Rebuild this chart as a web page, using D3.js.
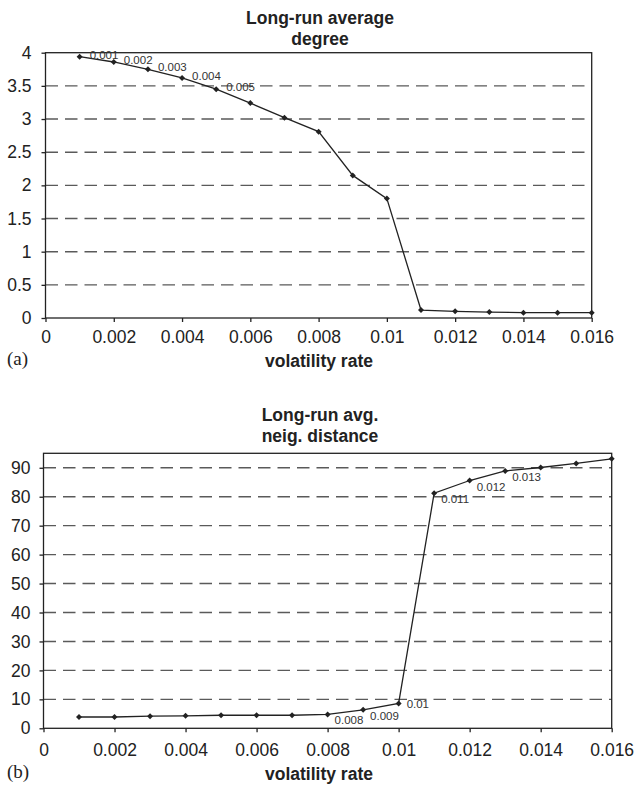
<!DOCTYPE html>
<html>
<head>
<meta charset="utf-8">
<script src="https://cdn.jsdelivr.net/npm/d3@7"></script>
<style>
body { margin: 0; background: #fff; }
svg { display: block; }
</style>
</head>
<body>
<div id="area"></div>
<script>
// volatility rates on the x axis
const rates = [0.001, 0.002, 0.003, 0.004, 0.005, 0.006, 0.007, 0.008,
    0.009, 0.010, 0.011, 0.012, 0.013, 0.014, 0.015, 0.016]

// (a) long-run average degree
const avgDegree = [3.94, 3.86, 3.75, 3.62, 3.45, 3.24, 3.02, 2.81,
    2.15, 1.80, 0.12, 0.10, 0.09, 0.08, 0.08, 0.08]

// (b) long-run avg. neighbour distance
const avgDistance = [3.9, 3.9, 4.2, 4.3, 4.5, 4.5, 4.5, 4.8,
    6.4, 8.6, 81.2, 85.6, 88.9, 90.1, 91.5, 93.1]

const xTicks = [0, 0.002, 0.004, 0.006, 0.008, 0.01, 0.012, 0.014, 0.016]
const xTickLabels = ["0", "0.002", "0.004", "0.006", "0.008", "0.01", "0.012", "0.014", "0.016"]
const degreeTicks = [0, 0.5, 1, 1.5, 2, 2.5, 3, 3.5, 4]
const degreeTickLabels = ["0", "0.5", "1", "1.5", "2", "2.5", "3", "3.5", "4"]
const distanceTicks = [0, 10, 20, 30, 40, 50, 60, 70, 80, 90]

// which points carry a rate label
const degreeLabelled = [0.001, 0.002, 0.003, 0.004, 0.005]
const distanceLabelled = [0.008, 0.009, 0.01, 0.011, 0.012, 0.013]

const width = 640
const height = 787
const ink = "#222"

const svg = d3.select("#area").append("svg")
    .attr("width", width)
    .attr("height", height)
    .attr("font-family", "'Liberation Sans', Arial, sans-serif")

svg.append("rect").attr("width", width).attr("height", height).attr("fill", "#fff")

function panel({values, yDomain, yTicks, yFormat, labelled, box, titleLines, titleY,
    xPad, yPad, axisTitleY, letter, labelShift}) {

    const x = d3.scaleLinear().domain([0, 0.016]).range([box.left, box.right])
    const y = d3.scaleLinear().domain(yDomain).range([box.bottom, box.top])
    const points = rates.map((r, i) => ({r: r, v: values[i]}))

    const g = svg.append("g")

    // dashed gridlines
    g.append("g")
        .selectAll("line")
        .data(yTicks.filter(t => t > yDomain[0] && t < yDomain[1]))
        .join("line")
        .attr("x1", box.left)
        .attr("x2", box.right)
        .attr("y1", d => y(d))
        .attr("y2", d => y(d))
        .attr("stroke", "#5a5a5a")
        .attr("stroke-width", 1.4)
        .attr("stroke-dasharray", "12.5,7")

    // frame
    g.append("rect")
        .attr("x", box.left)
        .attr("y", box.top)
        .attr("width", box.right - box.left)
        .attr("height", box.bottom - box.top)
        .attr("fill", "none")
        .attr("stroke", ink)
        .attr("stroke-width", 1.3)

    const yAxis = g.append("g")
        .attr("transform", `translate(${box.left},0)`)
        .call(d3.axisLeft(y).tickValues(yTicks).tickSize(4).tickPadding(yPad).tickFormat(yFormat))
    const xAxis = g.append("g")
        .attr("transform", `translate(0,${box.bottom})`)
        .call(d3.axisBottom(x).tickValues(xTicks).tickSize(4).tickPadding(xPad)
            .tickFormat((d, i) => xTickLabels[i]))

    ;[yAxis, xAxis].forEach(a => {
        a.select(".domain").remove()
        a.selectAll("line").attr("stroke", ink).attr("stroke-width", 1.3)
        a.selectAll("text")
            .attr("fill", ink)
            .attr("font-size", "17.5px")
            .attr("font-family", "'Liberation Sans', Arial, sans-serif")
    })

    // series line
    g.append("path")
        .datum(points)
        .attr("fill", "none")
        .attr("stroke", ink)
        .attr("stroke-width", 1.3)
        .attr("d", d3.line().x(d => x(d.r)).y(d => y(d.v)))

    g.append("g")
        .selectAll("path")
        .data(points)
        .join("path")
        .attr("transform", d => `translate(${x(d.r)},${y(d.v)}) rotate(45)`)
        .attr("d", d3.symbol(d3.symbolSquare, 18))
        .attr("fill", ink)

    // rate labels beside points
    g.append("g")
        .selectAll("text")
        .data(points.filter(p => labelled.some(l => Math.abs(l - p.r) < 1e-9)))
        .join("text")
        .attr("x", d => x(d.r) + labelShift(d)[0])
        .attr("y", d => y(d.v) + labelShift(d)[1])
        .attr("dy", "0.35em")
        .attr("font-size", "11.5px")
        .attr("fill", "#333")
        .text(d => d3.format("~g")(d.r))

    // title
    g.append("text")
        .attr("text-anchor", "middle")
        .attr("font-weight", "bold")
        .attr("font-size", "17.5px")
        .attr("fill", ink)
        .selectAll("tspan")
        .data(titleLines)
        .join("tspan")
        .attr("x", 320)
        .attr("y", (d, i) => titleY + i * 21)
        .text(d => d)

    g.append("text")
        .attr("x", 319)
        .attr("y", axisTitleY)
        .attr("text-anchor", "middle")
        .attr("font-weight", "bold")
        .attr("font-size", "17.5px")
        .attr("fill", ink)
        .text("volatility rate")

    g.append("text")
        .attr("x", 7)
        .attr("y", axisTitleY - 2)
        .attr("font-family", "'Liberation Serif', 'Times New Roman', serif")
        .attr("font-size", "19px")
        .attr("fill", ink)
        .text(letter)
}

panel({
    values: avgDegree,
    yDomain: [0, 4],
    yTicks: degreeTicks,
    yFormat: (d, i) => degreeTickLabels[i],
    labelled: degreeLabelled,
    box: {left: 45.5, right: 591.7, top: 52.7, bottom: 318},
    titleLines: ["Long-run average", "degree"],
    titleY: 24,
    xPad: 9,
    yPad: 10,
    axisTitleY: 367,
    letter: "(a)",
    labelShift: d => [10, -2]
})

panel({
    values: avgDistance,
    yDomain: [0, 95],
    yTicks: distanceTicks,
    yFormat: d3.format("d"),
    labelled: distanceLabelled,
    box: {left: 43.5, right: 611.7, top: 453.3, bottom: 728.3},
    titleLines: ["Long-run avg.", "neig. distance"],
    titleY: 421,
    xPad: 11,
    yPad: 9,
    axisTitleY: 780,
    letter: "(b)",
    labelShift: d => d.r === 0.01 ? [8, 1] : [7, 6]
})
</script>
</body>
</html>
